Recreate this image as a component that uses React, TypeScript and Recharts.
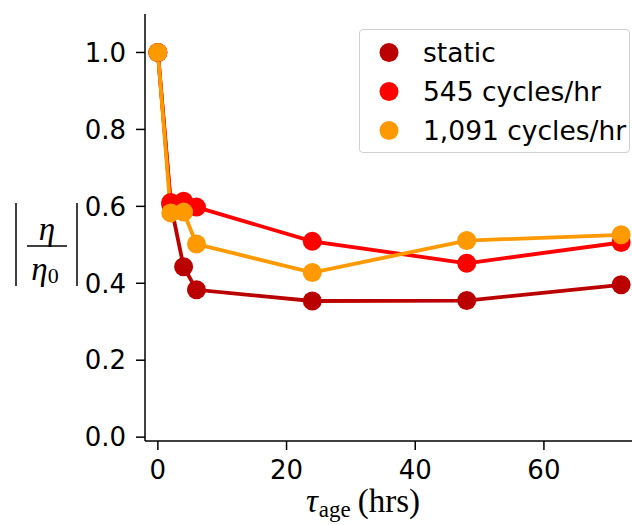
import { Legend, Line, LineChart, XAxis, YAxis } from 'recharts'

// hours of ageing
const ageHours = [0, 2, 4, 6, 24, 48, 72]

// |eta / eta0| per series
const staticRatio = [1.0, 0.605, 0.443, 0.383, 0.354, 0.355, 0.396]
const cycles545Ratio = [1.0, 0.61, 0.613, 0.598, 0.509, 0.452, 0.506]
const cycles1091Ratio = [1.0, 0.583, 0.585, 0.502, 0.428, 0.511, 0.526]

const seriesNames = ['static', '545 cycles/hr', '1,091 cycles/hr']
const seriesColors = ['#bb0000', '#ff0000', '#ff9900']

const xTicks = [0, 20, 40, 60]
const yTicks = [0, 0.2, 0.4, 0.6, 0.8, 1.0]

const chartData = ageHours.map((x, i) => ({
	x,
	s0: staticRatio[i],
	s1: cycles545Ratio[i],
	s2: cycles1091Ratio[i]
}))

const tickStyle = { fontFamily: 'DejaVu Sans', fontSize: 26, fill: '#000' }
const mathFont = 'Liberation Serif'

function YLabel() {
	return (
		<g>
			<line x1={16} y1={203} x2={16} y2={286} stroke='#000' strokeWidth={1.5} />
			<line x1={77} y1={203} x2={77} y2={286} stroke='#000' strokeWidth={1.5} />
			<text x={47} y={240} textAnchor='middle' fontFamily={mathFont} fontStyle='italic' fontSize={33}>
				η
			</text>
			<line x1={27} y1={246} x2={67} y2={246} stroke='#000' strokeWidth={1.5} />
			<text x={45} y={280} textAnchor='middle' fontFamily={mathFont} fontSize={33}>
				<tspan fontStyle='italic'>η</tspan>
				<tspan fontSize={22} dy={3}>0</tspan>
			</text>
		</g>
	)
}

function XLabel() {
	return (
		<text x={306} y={512} fontFamily={mathFont} fontSize={33} fill='#000'>
			<tspan fontStyle='italic'>τ</tspan>
			<tspan fontSize={23} dy={5} dx={1}>age</tspan>
			<tspan dy={-5} dx={7}>(hrs)</tspan>
		</text>
	)
}

function LegendBox({ payload }: any) {
	const items = [...(payload || [])].sort(
		(a: any, b: any) => seriesNames.indexOf(a.value) - seriesNames.indexOf(b.value)
	)
	return (
		<div
			style={{
				width: 271,
				height: 124,
				boxSizing: 'border-box',
				border: '1.5px solid #d0d0d0',
				borderRadius: 4,
				background: 'rgba(255,255,255,0.8)',
				paddingTop: 3
			}}
		>
			{items.map((p: any) => (
				<div key={p.value} style={{ height: 39, display: 'flex', alignItems: 'center' }}>
					<svg width={60} height={39} style={{ flex: 'none' }}>
						<circle cx={29} cy={19.5} r={9.5} fill={p.color} />
					</svg>
					<span style={{ fontFamily: 'DejaVu Sans', fontSize: 26.5, color: '#000', marginLeft: 3 }}>
						{p.value}
					</span>
				</div>
			))}
		</div>
	)
}

export default function App() {
	return (
		<div style={{ position: 'absolute', left: 0, top: 0, width: 632, height: 525, overflow: 'hidden', background: '#fff' }}>
			<LineChart
				width={634}
				height={525}
				data={chartData}
				margin={{ top: 14, right: 0, left: 0, bottom: 0 }}
			>
				<XAxis
					dataKey='x'
					type='number'
					domain={[-2, 74]}
					allowDataOverflow
					ticks={xTicks}
					height={84}
					tick={tickStyle}
					tickSize={9}
					tickMargin={11}
					axisLine={{ stroke: '#000', strokeWidth: 1.5 }}
					tickLine={{ stroke: '#000', strokeWidth: 1.5 }}
					label={<XLabel />}
				/>
				<XAxis
					xAxisId='top'
					orientation='top'
					dataKey='x'
					type='number'
					domain={[-2, 74]}
					allowDataOverflow
					height={0}
					tick={false}
					tickLine={false}
					axisLine={{ stroke: '#000', strokeWidth: 1.5 }}
				/>
				<YAxis
					type='number'
					domain={[-0.01, 1.1]}
					allowDataOverflow
					ticks={yTicks}
					width={145}
					tick={tickStyle}
					tickFormatter={(v: number) => v.toFixed(1)}
					tickSize={9}
					tickMargin={10}
					axisLine={{ stroke: '#000', strokeWidth: 1.5 }}
					tickLine={{ stroke: '#000', strokeWidth: 1.5 }}
					label={<YLabel />}
				/>
				<Legend
					layout='vertical'
					align='center'
					verticalAlign='middle'
					wrapperStyle={{ left: 359, top: 29, width: 271, height: 124 }}
					content={<LegendBox />}
				/>
				{seriesNames.map((name, i) => (
					<Line
						key={name}
						dataKey={`s${i}`}
						name={name}
						stroke={seriesColors[i]}
						strokeWidth={3.8}
						dot={{ r: 9.5, fill: seriesColors[i], stroke: 'none' }}
						activeDot={false}
						isAnimationActive={false}
					/>
				))}
			</LineChart>
		</div>
	)
}
